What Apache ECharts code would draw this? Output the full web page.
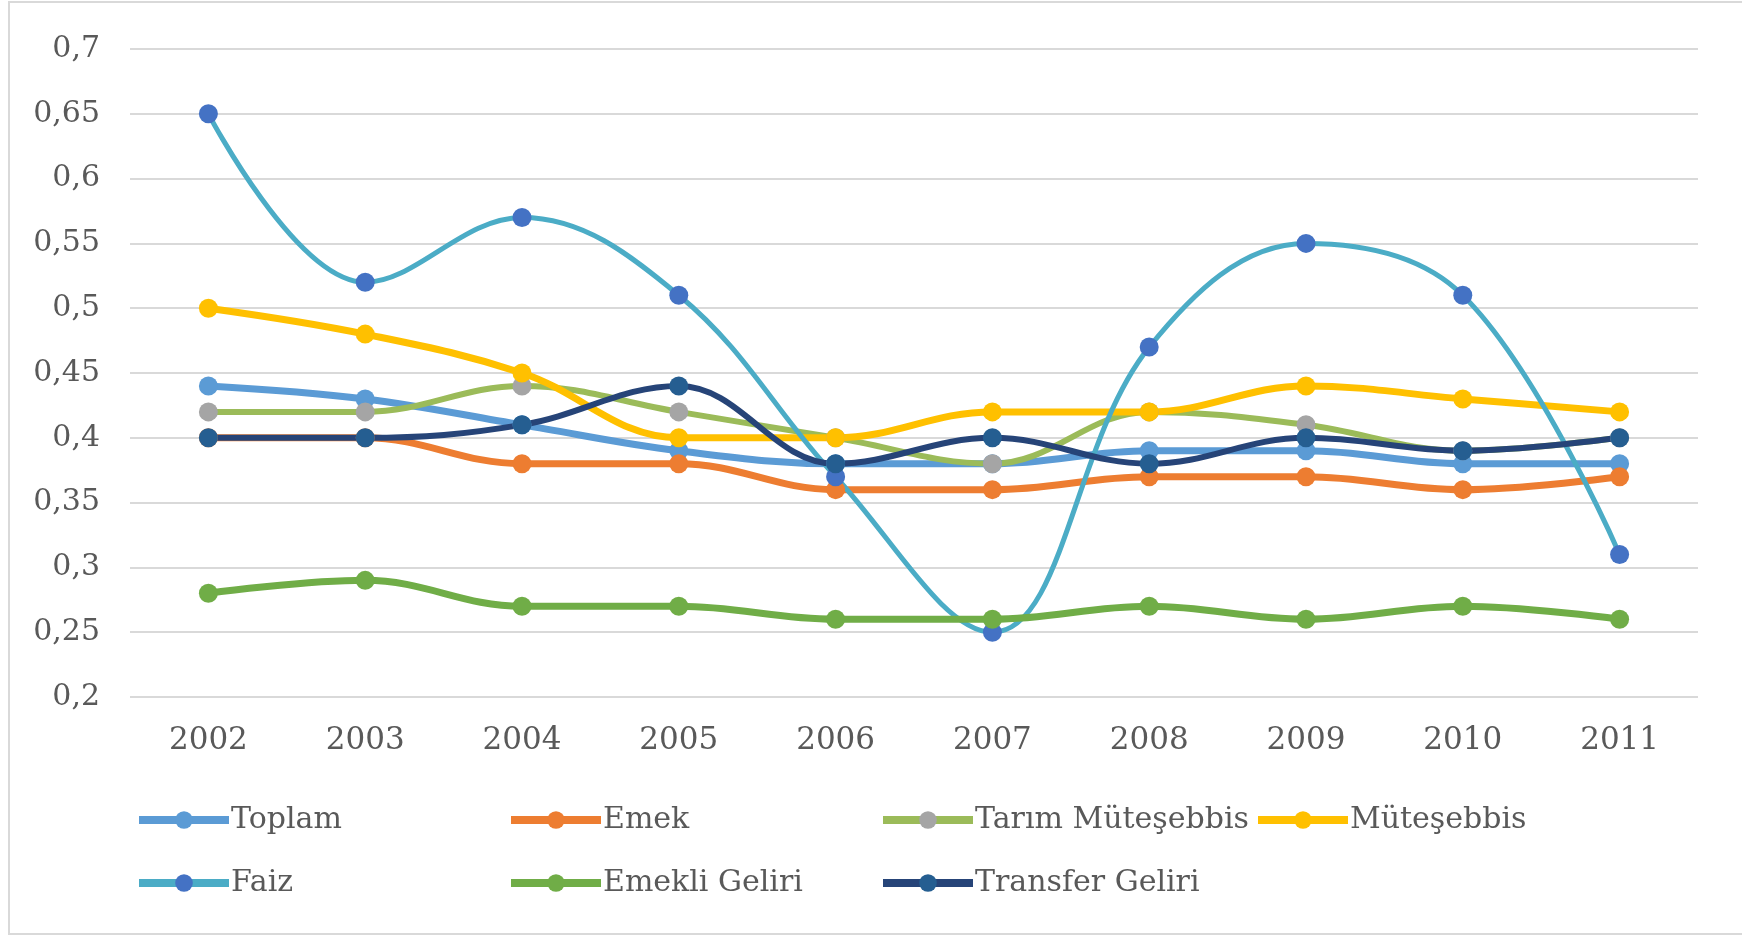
<!DOCTYPE html>
<html>
<head>
<meta charset="utf-8">
<script src="https://cdn.jsdelivr.net/npm/echarts@6/dist/echarts.min.js"></script>
<style>
  html, body { margin: 0; padding: 0; background: #fff; }
  #chart { width: 1742px; height: 937px; }
</style>
</head>
<body>
<div id="chart"></div>
<script>
var dom = document.getElementById('chart');
var myChart = echarts.init(dom, null, { renderer: 'canvas' });

// data
var years = ['2002', '2003', '2004', '2005', '2006', '2007', '2008', '2009', '2010', '2011'];
var toplam = [0.44, 0.43, 0.41, 0.39, 0.38, 0.38, 0.39, 0.39, 0.38, 0.38];
var emek = [0.40, 0.40, 0.38, 0.38, 0.36, 0.36, 0.37, 0.37, 0.36, 0.37];
var tarimMutesebbis = [0.42, 0.42, 0.44, 0.42, 0.40, 0.38, 0.42, 0.41, 0.39, 0.40];
var mutesebbis = [0.50, 0.48, 0.45, 0.40, 0.40, 0.42, 0.42, 0.44, 0.43, 0.42];
var faiz = [0.65, 0.52, 0.57, 0.51, 0.37, 0.25, 0.47, 0.55, 0.51, 0.31];
var emekliGeliri = [0.28, 0.29, 0.27, 0.27, 0.26, 0.26, 0.27, 0.26, 0.27, 0.26];
var transferGeliri = [0.40, 0.40, 0.41, 0.44, 0.38, 0.40, 0.38, 0.40, 0.39, 0.40];

var seriesDefs = [
    { name: 'Toplam', data: toplam, line: '#5B9BD5', mark: '#5B9BD5', w: 7 },
    { name: 'Emek', data: emek, line: '#ED7D31', mark: '#ED7D31', w: 7 },
    { name: 'Tarım Müteşebbis', data: tarimMutesebbis, line: '#9BBB59', mark: '#A5A5A5', w: 6 },
    { name: 'Müteşebbis', data: mutesebbis, line: '#FFC000', mark: '#FFC000', w: 7 },
    { name: 'Faiz', data: faiz, line: '#4BACC6', mark: '#4472C4', w: 5 },
    { name: 'Emekli Geliri', data: emekliGeliri, line: '#70AD47', mark: '#70AD47', w: 7 },
    { name: 'Transfer Geliri', data: transferGeliri, line: '#264478', mark: '#255E91', w: 6 }
];

var textColor = '#595959';
var fontFam = '"DejaVu Serif", Georgia, serif';

// legend slots, Excel-like columns
var legendPos = [
    [135, 805], [507, 805], [879, 805], [1254, 805],
    [135, 868], [507, 868], [879, 868]
];

var legends = seriesDefs.map(function (s, i) {
    return {
        data: [s.name],
        left: legendPos[i][0],
        top: legendPos[i][1],
        itemWidth: 90,
        itemHeight: 22,
        itemGap: 0,
        padding: 0,
        lineStyle: { width: 8 },
        textStyle: { color: textColor, fontFamily: fontFam, fontSize: 30, padding: [0, 0, 0, -3] },
        selectedMode: false
    };
});

var option = {
    animation: false,
    backgroundColor: '#fff',
    graphic: [{
        type: 'rect',
        shape: { x: 9, y: 2, width: 1760, height: 932 },
        style: { fill: 'none', stroke: '#d9d9d9', lineWidth: 2 },
        silent: true
    }],
    legend: legends,
    grid: { left: 130, right: 44, top: 49, bottom: 240 },
    xAxis: {
        type: 'category',
        data: years,
        boundaryGap: true,
        axisLine: { show: false },
        axisTick: { show: false },
        axisLabel: { color: textColor, fontFamily: fontFam, fontSize: 31, margin: 28 }
    },
    yAxis: {
        type: 'value',
        min: 0.2,
        max: 0.7,
        interval: 0.05,
        axisLine: { show: false },
        axisTick: { show: false },
        splitLine: { lineStyle: { color: '#d9d9d9', width: 2 } },
        axisLabel: {
            color: textColor, fontFamily: fontFam, fontSize: 30, margin: 30,
            formatter: function (v) {
                return String(+v.toFixed(2)).replace('.', ',');
            }
        }
    },
    series: seriesDefs.map(function (s) {
        return {
            name: s.name,
            type: 'line',
            data: s.data,
            smooth: 0.38,
            symbol: 'circle',
            symbolSize: 19,
            lineStyle: { color: s.line, width: s.w },
            itemStyle: { color: s.mark, borderWidth: 0 }
        };
    })
};

myChart.setOption(option);
window.addEventListener('resize', myChart.resize);
</script>
</body>
</html>
